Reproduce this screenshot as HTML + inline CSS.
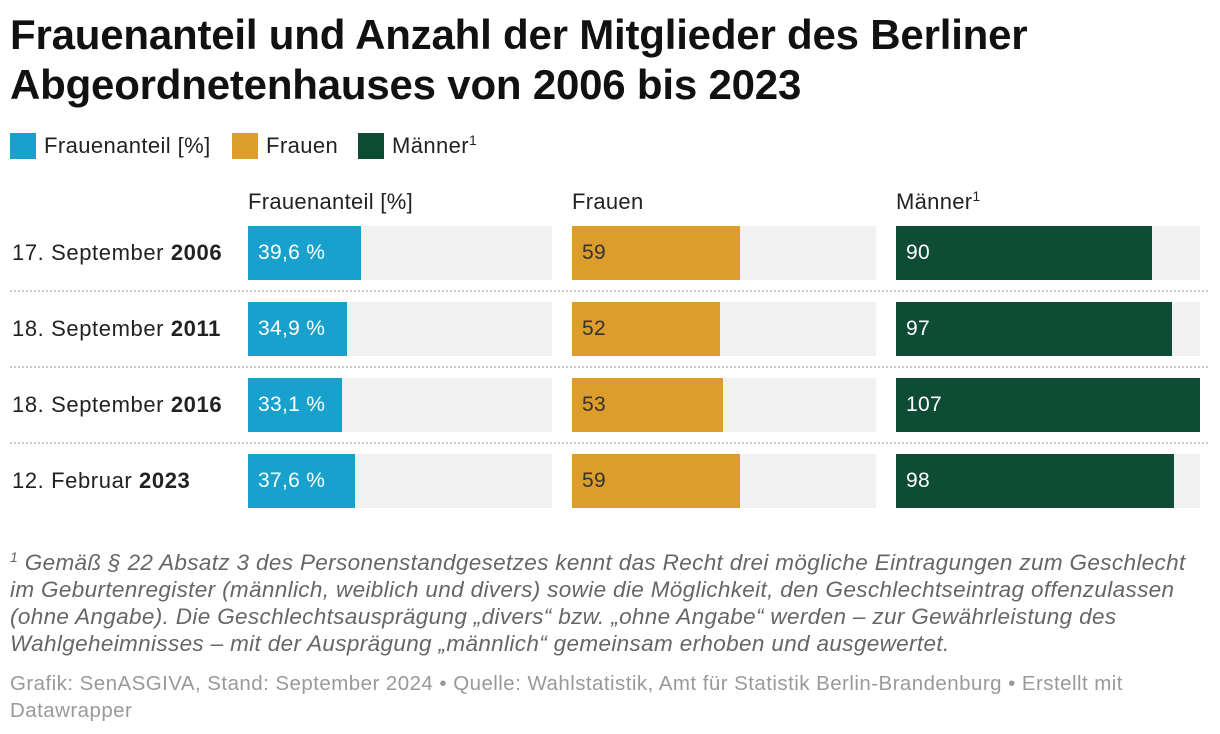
<!DOCTYPE html>
<html><head><meta charset="utf-8"><style>
body{margin:0;width:1220px;height:734px;background:#fff;font-family:"Liberation Sans",sans-serif;position:relative;overflow:hidden;color:#222}
h1{position:absolute;left:10px;top:10px;margin:0;font-size:42px;line-height:50px;font-weight:bold;color:#111;letter-spacing:-0.2px}
.leg{position:absolute;top:133px;font-size:22px;letter-spacing:0.4px;display:flex;align-items:center}
.sw{width:26px;height:26px;margin-right:8px;display:inline-block}
sup{font-size:14px;vertical-align:8px;line-height:0}
.hdr{position:absolute;top:189px;font-size:22px;letter-spacing:0.3px}
.lab{position:absolute;left:12px;font-size:22px;letter-spacing:0.6px}
.bg{position:absolute;background:#f1f1f1;height:54px}
.bar{position:absolute;height:54px}
.val{position:absolute;font-size:21px;line-height:54px;letter-spacing:0.3px}
.sep{position:absolute;left:10px;width:1198px;border-top:2px dotted #ccc}
.note{position:absolute;left:10px;top:549px;width:1210px;font-size:22.5px;line-height:27px;font-style:italic;color:#666;white-space:nowrap;letter-spacing:0.35px}
.src{position:absolute;left:10px;top:670px;width:1210px;font-size:20.5px;line-height:27px;color:#999;white-space:nowrap;letter-spacing:0.45px}
</style></head><body>
<h1>Frauenanteil und Anzahl der Mitglieder des Berliner<br>Abgeordnetenhauses von 2006 bis 2023</h1>
<div class="leg" style="left:10px"><span class="sw" style="background:#18a1cd"></span>Frauenanteil [%]</div>
<div class="leg" style="left:232px"><span class="sw" style="background:#dd9d2b"></span>Frauen</div>
<div class="leg" style="left:358px"><span class="sw" style="background:#0f4c36"></span><span>Männer<sup>1</sup></span></div>
<div class="hdr" style="left:248px">Frauenanteil [%]</div>
<div class="hdr" style="left:572px">Frauen</div>
<div class="hdr" style="left:896px">Männer<sup>1</sup></div>
<div id="rows"></div>
<div class="note"><sup>1</sup> Gemäß § 22 Absatz 3 des Personenstandgesetzes kennt das Recht drei mögliche Eintragungen zum Geschlecht<br>im Geburtenregister (männlich, weiblich und divers) sowie die Möglichkeit, den Geschlechtseintrag offenzulassen<br>(ohne Angabe). Die Geschlechtsausprägung „divers“ bzw. „ohne Angabe“ werden – zur Gewährleistung des<br>Wahlgeheimnisses – mit der Ausprägung „männlich“ gemeinsam erhoben und ausgewertet.</div>
<div class="src">Grafik: SenASGIVA, Stand: September 2024 • Quelle: Wahlstatistik, Amt für Statistik Berlin-Brandenburg • Erstellt mit<br>Datawrapper</div>
<script>
const dates=["17. September ","18. September ","18. September ","12. Februar "];
const years=["2006","2011","2016","2023"];
const anteil=[39.6,34.9,33.1,37.6];
const frauen=[59,52,53,59];
const maenner=[90,97,107,98];
const maxV=107, colW=304;
const x=v=>v/maxV*colW;
const root=document.getElementById('rows');
function add(cls,style,name,html){
  const d=document.createElement('div');d.className=cls;d.style.cssText=style;
  
  
  if(html!==undefined)d.innerHTML=html;root.appendChild(d);return d;
}
const cols=[{l:248,c:'#18a1cd',t:'#fff',d:anteil,f:v=>v.toFixed(1).replace('.',',')+' %',n:'frauenanteil'},
 {l:572,c:'#dd9d2b',t:'#333',d:frauen,f:v=>v,n:'frauen'},
 {l:896,c:'#0f4c36',t:'#fff',d:maenner,f:v=>v,n:'maenner'}];
years.forEach((y,i)=>{
  const top=226+i*76;
  add('lab',`top:${top}px;line-height:54px`,'row-label-'+y,dates[i]+'<b>'+y+'</b>');
  cols.forEach(c=>{
    add('bg',`left:${c.l}px;top:${top}px;width:${colW}px`,'bar-bg-'+c.n+'-'+y);
    add('bar',`left:${c.l}px;top:${top}px;width:${x(c.d[i])}px;background:${c.c}`,'bar-'+c.n+'-'+y);
    add('val',`left:${c.l+10}px;top:${top}px;color:${c.t}`,'value-'+c.n+'-'+y,c.f(c.d[i]));
  });
  if(i<3)add('sep',`top:${top+64}px`,'row-separator');
});
</script>
</body></html>
